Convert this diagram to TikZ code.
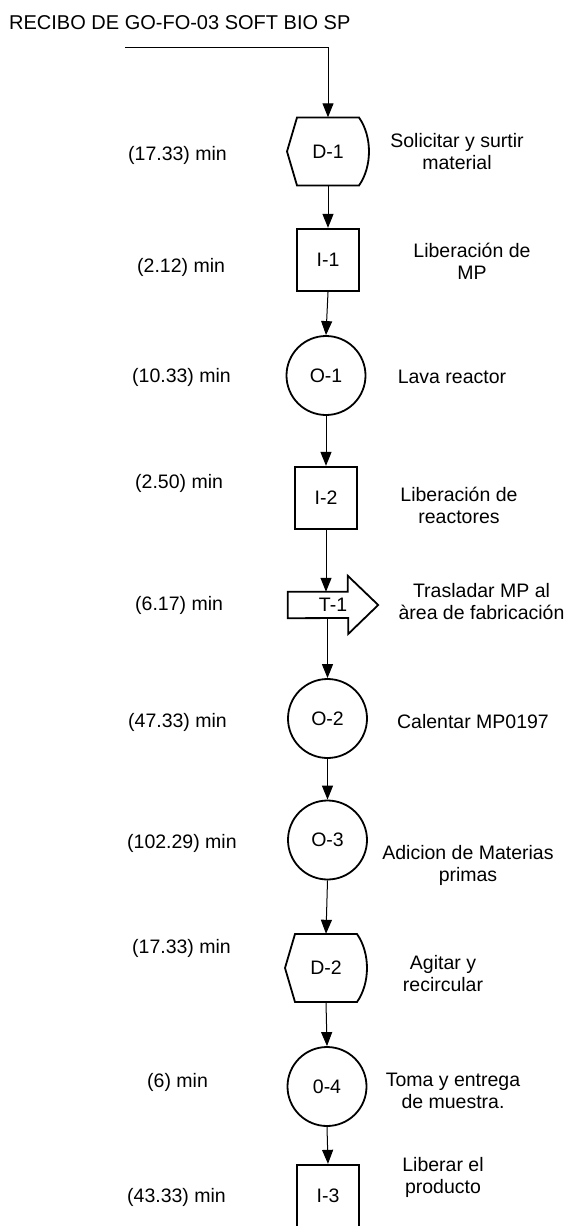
\documentclass[tikz,border=0pt]{standalone}
\usepackage{fontspec}
\setmainfont{Liberation Sans}
\usetikzlibrary{arrows.meta}

% outline of a delay symbol: pointed left side, bulging right side
\newcommand\delayoutline[1]{%
  \draw[shapeline, shift={(#1.center)}]
    (-31,-34) -- (-41,0) -- (-31,34) -- (31,34)
    .. controls (44.3,15) and (44.3,-15) .. (31,-34) -- cycle;}

\begin{document}
\begin{tikzpicture}[x=1pt, y=-1pt,
  every node/.style={font=\fontsize{19.5}{22}\selectfont, inner sep=0pt},
  flow/.style={line width=1pt, -{Triangle[length=14pt,width=11pt]}},
  shapeline/.style={line width=1.8pt},
  opbox/.style={circle, draw, shapeline, minimum size=79pt},
  inspbox/.style={rectangle, draw, shapeline, minimum size=62.5pt},
  delaybox/.style={minimum width=82pt, minimum height=68pt},
  timelabel/.style={anchor=west},
  desc/.style={align=center}]

\useasboundingbox (0,0) rectangle (569,1226);
\clip (0,0) rectangle (569,1226);

% heading and entry line
\node[anchor=west, font=\fontsize{20}{24}\selectfont] (title) at (9,23) {RECIBO DE GO-FO-03 SOFT BIO SP};
\coordinate (entry) at (125,47);

% process symbols
\node[delaybox] (d1) at (328,151.5) {D-1};
\delayoutline{d1}
\node[inspbox] (i1) at (328,260) {I-1};
\node[opbox] (o1) at (326,375.5) {O-1};
\node[inspbox] (i2) at (326,498) {I-2};
\node[minimum width=90pt, minimum height=26pt] (t1) at (333,605) {T-1};
\draw[shapeline] (t1.north west) -- ++(60,0) -- ++(0,-16) -- (t1.east)
  -- ++(-30,29) -- ++(0,-16) -- (t1.south west) -- cycle;
\node[opbox] (o2) at (327.5,718.5) {O-2};
\node[opbox] (o3) at (327.5,840) {O-3};
\node[delaybox] (d2) at (326,968) {D-2};
\delayoutline{d2}
\node[opbox] (o4) at (327,1086.5) {0-4};
\node[inspbox] (i3) at (328,1196) {I-3};

% flow connectors
\draw[flow] (entry) -| (d1.north);
\draw[flow] (d1.south) -- (i1.north);
\draw[flow] (i1.south) -- (o1.north);
\draw[flow] (o1.south) -- (i2.north);
\draw[flow] (i2.south) -- (i2.south |- t1.north);
\draw[flow] (o2.north |- t1.south) -- (o2.north);
\draw[flow] (o2.south) -- (o3.north);
\draw[flow] (o3.south) -- (d2.north);
\draw[flow] (d2.south) -- (o4.north);
\draw[flow] (o4.south) -- (i3.north);

% durations
\node[timelabel] (tm1) at (128,155) {(17.33) min};
\node[timelabel] (tm2) at (137,267) {(2.12) min};
\node[timelabel] (tm3) at (132,377) {(10.33) min};
\node[timelabel] (tm4) at (135,483) {(2.50) min};
\node[timelabel] (tm5) at (135,605) {(6.17) min};
\node[timelabel] (tm6) at (128,722) {(47.33) min};
\node[timelabel] (tm7) at (127,843) {(102.29) min};
\node[timelabel] (tm8) at (132,948) {(17.33) min};
\node[timelabel] (tm9) at (147,1082) {(6) min};
\node[timelabel] (tm10) at (127,1197) {(43.33) min};

% activity descriptions
\node[desc] (ds1) at (457,151.5) {Solicitar y surtir\\material};
\node[desc] (ds2) at (472,261) {Liberación de\\MP};
\node[desc] (ds3) at (452,377) {Lava reactor};
\node[desc] (ds4) at (459,505) {Liberación de\\reactores};
\node[desc] (ds5) at (481.5,602) {Trasladar MP al\\àrea de fabricación};
\node[desc] (ds6) at (473,722) {Calentar MP0197};
\node[desc] (ds7) at (468,865) {Adicion de Materias\\primas};
\node[desc] (ds8) at (443,974) {Agitar y\\recircular};
\node[desc] (ds9) at (453,1091) {Toma y entrega\\de muestra.};
\node[desc] (ds10) at (443,1177) {Liberar el\\producto};
\end{tikzpicture}
\end{document}
